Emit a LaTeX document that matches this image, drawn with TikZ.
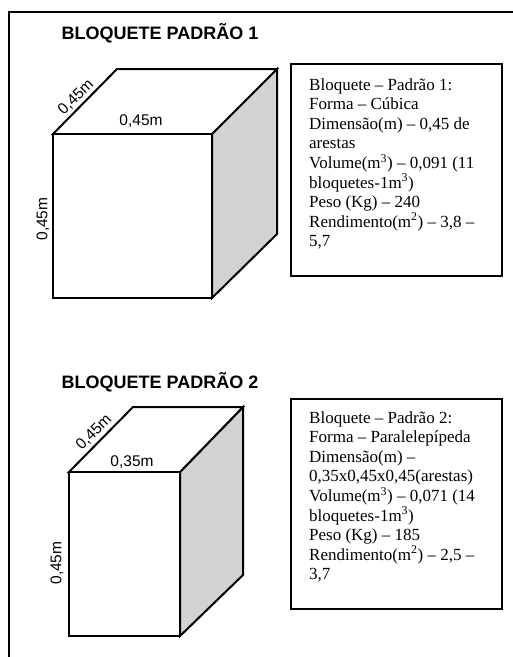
\documentclass[tikz,border=0pt]{standalone}
\usepackage{fontspec}
\setmainfont{Liberation Serif}
\newfontfamily\arialf{Liberation Sans}
\definecolor{sidegray}{RGB}{209,210,212}
\begin{document}
\begin{tikzpicture}[x=1pt,y=-1pt,
  edge/.style={line width=2pt,line join=miter},
  frameline/.style={line width=1.6pt},
  infobox/.style={draw,line width=2pt,minimum width=211pt,inner sep=0pt,anchor=north west},
  infotext/.style={anchor=north west,inner sep=0pt,align=left,font=\fontsize{17}{19.6}\selectfont},
  title/.style={anchor=base,inner sep=0pt,font=\arialf\bfseries\fontsize{18}{20}\selectfont},
  dim/.style={inner sep=0pt,font=\arialf\fontsize{15.5}{18}\selectfont}]
\useasboundingbox (0,0) rectangle (513,657);
\draw[frameline] (520,12) -- (9,12) -- (9,660);

% ---- block 1 ----
\node[title] (t1) at (160,39.5) {BLOQUETE PADRÃO 1};
\draw[edge,fill=sidegray] (212,134) -- (277,69) -- (277,234) -- (212,298) -- cycle;
\draw[edge,fill=white] (53,134) -- (117,69) -- (277,69) -- (212,134) -- cycle;
\draw[edge,fill=white] (53,134) rectangle (212,298);
\node[dim] (w1) at (141,121) {0,45m};
\node[dim,rotate=45] (d1) at (76,97) {0,45m};
\node[dim,rotate=90] (h1) at (43,219) {0,45m};
\node[infobox,minimum height=212pt] (b1) at (290,63) {};
\node[infotext] (x1) at (309,78) {Bloquete – Padrão 1:\\
Forma – Cúbica\\
Dimensão(m) – 0,45 de\\
arestas\\
Volume(m\textsuperscript{3}) – 0,091 (11\\
bloquetes-1m\textsuperscript{3})\\
Peso (Kg) – 240\\
Rendimento(m\textsuperscript{2}) – 3,8 –\\
5,7};

% ---- block 2 ----
\node[title] (t2) at (160,388) {BLOQUETE PADRÃO 2};
\draw[edge,fill=sidegray] (180,472) -- (243,407) -- (243,575) -- (180,636) -- cycle;
\draw[edge,fill=white] (69,472) -- (133,407) -- (243,407) -- (180,472) -- cycle;
\draw[edge,fill=white] (69,472) rectangle (180,636);
\node[dim] (w2) at (132,462) {0,35m};
\node[dim,rotate=45] (d2) at (94,432) {0,45m};
\node[dim,rotate=90] (h2) at (57,563) {0,45m};
\node[infobox,minimum height=210pt] (b2) at (290,398) {};
\node[infotext] (x2) at (309,411) {Bloquete – Padrão 2:\\
Forma – Paralelepípeda\\
Dimensão(m) –\\
0,35x0,45x0,45(arestas)\\
Volume(m\textsuperscript{3}) – 0,071 (14\\
bloquetes-1m\textsuperscript{3})\\
Peso (Kg) – 185\\
Rendimento(m\textsuperscript{2}) – 2,5 –\\
3,7};
\end{tikzpicture}
\end{document}
